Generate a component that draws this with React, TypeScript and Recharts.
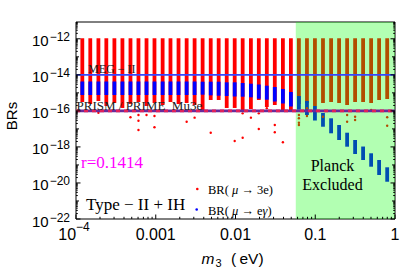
import React from 'react';
import { ComposedChart, Line, Scatter, XAxis, YAxis, ReferenceArea, ReferenceLine } from 'recharts';

// lightest neutrino mass m3 (eV) of each scanned column
const M3 = [
  1.2e-4, 1.51e-4, 1.91e-4, 2.4e-4, 3.03e-4, 3.82e-4, 4.82e-4, 6.07e-4, 7.66e-4, 9.64e-4,
  1.22e-3, 1.53e-3, 1.93e-3, 2.44e-3, 3.07e-3, 3.87e-3, 4.89e-3, 6.15e-3, 7.76e-3, 9.77e-3,
  1.23e-2, 1.56e-2, 1.96e-2, 2.47e-2, 3.11e-2, 3.93e-2, 4.95e-2, 6.24e-2, 7.87e-2, 9.91e-2,
  0.125, 0.158, 0.199, 0.251, 0.316, 0.398, 0.502, 0.632, 0.798,
];

// BR(mu -> 3e): spread of each column
const RED_HIGH = [
  1.07e-12, 1.07e-12, 1.07e-12, 1.07e-12, 1.07e-12, 1.07e-12, 1.07e-12, 1.07e-12, 1.07e-12, 1.07e-12,
  1.07e-12, 1.07e-12, 1.07e-12, 1.07e-12, 1.07e-12, 1.07e-12, 1.07e-12, 1.07e-12, 1.07e-12, 1.07e-12,
  1.07e-12, 1.07e-12, 1.07e-12, 1.07e-12, 1.07e-12, 1.07e-12, 1.07e-12, 1.07e-12, 1.07e-12, 1.07e-12,
  1.07e-12, 1.07e-12, 1.07e-12, 1.07e-12, 1.07e-12, 1.07e-12, 1.07e-12, 1.07e-12, 1.07e-12,
];
const RED_LOW = [
  3.11e-16, 2.41e-16, 3.53e-16, 1.87e-16, 2.74e-16, 1.45e-16, 2.41e-16, 3.11e-16, 1.87e-16, 2.74e-16,
  2.12e-16, 3.11e-16, 2.41e-16, 2.74e-16, 2.12e-16, 1.12e-16, 4.02e-16, 4.02e-16, 1.45e-16, 1.45e-16,
  8.7e-17, 1.27e-16, 4.02e-16, 1.64e-16, 2.12e-16, 8.7e-17, 1.12e-16, 2.41e-16, 2.74e-16, 1.87e-16,
  2.74e-16, 3.11e-16, 2.74e-16, 2.12e-16, 3.11e-16, 3.11e-16, 2.74e-16, 4.02e-16, 4.56e-16,
];

// BR(mu -> e gamma): spread of each column
const BLUE_HIGH = [
  4.27e-15, 4.27e-15, 4.27e-15, 4.27e-15, 4.27e-15, 4.27e-15, 4.27e-15, 4.27e-15, 4.27e-15, 4.27e-15,
  4.27e-15, 4.27e-15, 4.27e-15, 4.27e-15, 4.27e-15, 4.16e-15, 4.16e-15, 4.16e-15, 3.85e-15, 3.85e-15,
  3.52e-15, 3.22e-15, 2.91e-15, 2.5e-15, 2.11e-15, 1.64e-15, 1.12e-15, 6.7e-16, 3.53e-16, 1.87e-16,
  7.6e-17, 3.87e-17, 1.64e-17, 6.15e-18, 2.42e-18, 1.05e-18, 4.43e-19, 1.88e-19, 7.4e-20,
];
const BLUE_LOW = [
  7.6e-16, 7.6e-16, 7.6e-16, 7.6e-16, 7.6e-16, 7.6e-16, 7.6e-16, 7.6e-16, 7.6e-16, 7.6e-16,
  7.6e-16, 7.6e-16, 7.6e-16, 7.6e-16, 7.6e-16, 7.9e-16, 7.3e-16, 6.96e-16, 6.7e-16, 6.28e-16,
  6.12e-16, 5.67e-16, 4.74e-16, 4.17e-16, 3.31e-16, 2.57e-16, 1.75e-16, 1.16e-16, 5.9e-17, 2.92e-17,
  1.32e-17, 5.7e-18, 2.42e-18, 1.03e-18, 4.05e-19, 1.88e-19, 7.98e-20, 2.77e-20, 1.17e-20,
];

// isolated BR(mu -> 3e) points below the dense columns (column index, BR)
const DOT_COL = [2, 6, 7, 7, 7, 8, 9, 9, 13, 14, 16, 19, 20, 20, 21, 22, 22, 23, 24, 24, 25,
  27, 27, 27, 27, 28, 28, 30, 33, 33, 34, 34, 36, 38, 38];
const DOT_BR = [7.9e-17, 4.4e-17, 5.9e-17, 2.85e-17, 8.7e-18, 5.9e-17, 5.2e-17, 1.23e-17, 2.5e-17, 4.2e-17,
  6.15e-18, 2.13e-18, 3.25e-18, 7.3e-17, 4.2e-17, 9.9e-18, 7.3e-17, 1.39e-16, 1.64e-17, 6.5e-18, 1.8e-18,
  5.9e-17, 3.87e-17, 2.2e-17, 1.64e-17, 1.39e-16, 5.2e-17, 4.75e-17, 5.9e-17, 2.5e-17, 4.75e-17, 3.1e-17,
  1.12e-16, 4.4e-17, 1.5e-17];

const MEG_II = 1e-14;
const MU3E = 1e-16;
const PLANCK_M3 = 0.057;

const X_DOMAIN = [1e-4, 1];
const Y_DOMAIN = [1e-22, 8.55e-12];
const X_MAJOR = [1e-4, 1e-3, 1e-2, 1e-1, 1];
const X_TEXT = ['10', '0.001', '0.01', '0.1', '1'];
const X_EXP = ['\u22124', '', '', '', ''];
const Y_MAJOR = [1e-22, 1e-20, 1e-18, 1e-16, 1e-14, 1e-12];
const Y_EXP = ['\u221222', '\u221220', '\u221218', '\u221216', '\u221214', '\u221212'];

const logTicks = (lo: number, hi: number, top: number) => {
  const out: number[] = [];
  for (let e = lo; e <= hi; e++) {
    for (let m = 1; m < 10; m++) {
      const v = m * Math.pow(10, e);
      if (v <= top * 1.0001) out.push(v);
    }
  }
  return out;
};
const X_TICKS = logTicks(-4, 0, 1);
const Y_TICKS = logTicks(-22, -12, 8.55e-12);

const sans = '"Liberation Sans", Arial, Helvetica, sans-serif';
const serif = '"Liberation Serif", "Times New Roman", Times, serif';

const findMajor = (list: number[], v: number) =>
  list.findIndex((t) => Math.abs(Math.log10(t) - Math.log10(v)) < 1e-6);

const yLen = (v: number) => {
  const l = Math.log10(v);
  const r = Math.round(l);
  if (Math.abs(l - r) > 1e-6) return 1.8;
  return r % 2 === 0 ? 4.5 : 3;
};
const xLen = (v: number) => (findMajor(X_MAJOR, v) >= 0 ? 4.5 : 2.2);

const LeftTick = (props: any) => {
  const { x, y, payload } = props;
  const i = findMajor(Y_MAJOR, payload.value);
  return (
    <g>
      <line x1={x} x2={x + yLen(payload.value)} y1={y} y2={y} stroke="#000" strokeWidth={1} />
      {i >= 0 && (
        <text x={x - 6} y={y + 7.5} textAnchor="end" fontSize={15} fontFamily={sans} fill="#000">
          10
          <tspan dx={1} dy={-5} fontSize={12}>{Y_EXP[i]}</tspan>
        </text>
      )}
    </g>
  );
};

const RightTick = (props: any) => {
  const { x, y, payload } = props;
  return <line x1={x} x2={x - yLen(payload.value)} y1={y} y2={y} stroke="#000" strokeWidth={1} />;
};

const BottomTick = (props: any) => {
  const { x, y, payload } = props;
  const i = findMajor(X_MAJOR, payload.value);
  return (
    <g>
      <line x1={x} x2={x} y1={y} y2={y - xLen(payload.value)} stroke="#000" strokeWidth={1} />
      {i >= 0 && (
        <text x={X_EXP[i] ? x - 2 : x} y={y + 21} textAnchor="middle" fontSize={16} fontFamily={sans} fill="#000">
          {X_TEXT[i]}
          {X_EXP[i] && <tspan dy={-9} fontSize={12}>{X_EXP[i]}</tspan>}
        </text>
      )}
    </g>
  );
};

const TopTick = (props: any) => {
  const { x, y, payload } = props;
  return <line x1={x} x2={x} y1={y} y2={y + xLen(payload.value)} stroke="#000" strokeWidth={1} />;
};

const dots = DOT_COL.map((c, i) => ({ x: M3[c], y: DOT_BR[i] }));

const Dot = (props: any) => <circle cx={props.cx} cy={props.cy} r={1.2} fill="#ff0000" />;

export default function App() {
  return (
    <div style={{ position: 'absolute', left: 0, top: 0, width: 400, height: 271, background: '#fff' }}>
      <ComposedChart width={400} height={271} margin={{ top: 0, right: 0, bottom: 0, left: 0 }}>
        <XAxis
          dataKey="x"
          type="number"
          scale="log"
          domain={X_DOMAIN}
          allowDataOverflow
          ticks={X_TICKS}
          interval={0}
          height={52}
          tickSize={0}
          tickMargin={0}
          tickLine={false}
          axisLine={{ stroke: '#000' }}
          tick={<BottomTick />}
        />
        <XAxis
          xAxisId="t"
          orientation="top"
          type="number"
          scale="log"
          domain={X_DOMAIN}
          allowDataOverflow
          ticks={X_TICKS}
          interval={0}
          height={22}
          tickSize={0}
          tickMargin={0}
          tickLine={false}
          axisLine={{ stroke: '#000' }}
          tick={<TopTick />}
        />
        <YAxis
          type="number"
          scale="log"
          domain={Y_DOMAIN}
          allowDataOverflow
          ticks={Y_TICKS}
          interval={0}
          width={76}
          tickSize={0}
          tickMargin={0}
          tickLine={false}
          axisLine={{ stroke: '#000' }}
          tick={<LeftTick />}
        />
        <YAxis
          yAxisId="r"
          orientation="right"
          type="number"
          scale="log"
          domain={Y_DOMAIN}
          allowDataOverflow
          ticks={Y_TICKS}
          interval={0}
          width={5}
          tickSize={0}
          tickMargin={0}
          tickLine={false}
          axisLine={{ stroke: '#000' }}
          tick={<RightTick />}
        />

        {M3.map((m, i) => (
          <Line
            key={'r' + i}
            data={[{ x: m, y: RED_LOW[i] }, { x: m, y: RED_HIGH[i] }]}
            dataKey="y"
            stroke="#ff0000"
            strokeWidth={3.8}
            dot={false}
            activeDot={false}
            isAnimationActive={false}
          />
        ))}
        <Scatter data={dots} dataKey="y" shape={<Dot />} isAnimationActive={false} />
        {M3.map((m, i) => (
          <Line
            key={'b' + i}
            data={[{ x: m, y: BLUE_LOW[i] }, { x: m, y: BLUE_HIGH[i] }]}
            dataKey="y"
            stroke="#0000ff"
            strokeWidth={3.8}
            dot={false}
            activeDot={false}
            isAnimationActive={false}
          />
        ))}

        <ReferenceArea x1={PLANCK_M3} x2={X_DOMAIN[1]} fill="#00ff00" fillOpacity={0.3} stroke="none" zIndex={900} />
        <ReferenceLine y={MEG_II} stroke="#3446ff" strokeWidth={1.6} zIndex={950} />
        <ReferenceLine y={MU3E} stroke="#6a2a9a" strokeWidth={2.6} zIndex={950} />
        <ReferenceLine y={MU3E} stroke="#e0205a" strokeWidth={2.6} strokeDasharray="4 4" zIndex={960} />
      </ComposedChart>

      <svg width={400} height={271} style={{ position: 'absolute', left: 0, top: 0, pointerEvents: 'none' }}>
        <text x={88} y={73} fontSize={12} fontFamily={serif} fill="#222">MEG − II</text>
        <text x={76.5} y={110} fontSize={13} fontFamily={serif} fill="#222" style={{ whiteSpace: 'pre' }}>
          {'PRISM / PRIME  Mu3e'}
        </text>
        <text x={81} y={167.5} fontSize={17} fontFamily={serif} fill="#ff00ff">r=0.1414</text>
        <text x={86} y={210} fontSize={17} fontFamily={serif} fill="#000">Type − II + IH</text>
        <text x={332.5} y={171} fontSize={16} fontFamily={serif} fill="#000" textAnchor="middle">Planck</text>
        <text x={332.5} y={189.5} fontSize={16} fontFamily={serif} fill="#000" textAnchor="middle">Excluded</text>

        <circle cx={197.3} cy={189} r={1.3} fill="#ff0000" />
        <text x={208} y={194} fontSize={12.5} fontFamily={serif} fill="#000" style={{ whiteSpace: 'pre' }}>
          {'BR( '}<tspan fontStyle="italic">μ</tspan>{' → 3e)'}
        </text>
        <circle cx={196.7} cy={209.5} r={1.3} fill="#0000ff" />
        <text x={208} y={214.5} fontSize={12.5} fontFamily={serif} fill="#000" style={{ whiteSpace: 'pre' }}>
          {'BR( '}<tspan fontStyle="italic">μ</tspan>{' → e'}<tspan fontStyle="italic">γ</tspan>{')'}
        </text>

        <text transform="translate(16.5,116) rotate(-90)" textAnchor="middle" fontSize={15} fontFamily={sans} fill="#000">
          BRs
        </text>
        <text y={264} fontSize={15.5} fontFamily={sans} fill="#000">
          <tspan x={201.5} fontStyle="italic">m</tspan>
          <tspan x={215.5} dy={3} fontSize={11}>3</tspan>
          <tspan x={231} dy={-3}>(</tspan>
          <tspan x={239.5}>eV)</tspan>
        </text>
      </svg>
    </div>
  );
}
